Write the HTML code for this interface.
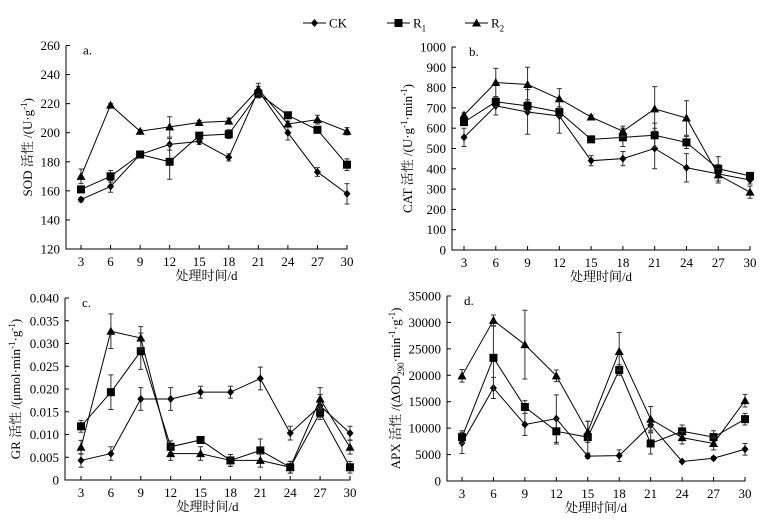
<!DOCTYPE html>
<html><head><meta charset="utf-8"><style>
body{margin:0;background:#fff}
svg text{font-family:"Liberation Serif","Noto Serif CJK SC","Noto Sans CJK SC",serif;fill:#000}
</style></head><body>
<svg id="c" width="768" height="520" viewBox="0 0 768 520" xmlns="http://www.w3.org/2000/svg"></svg>
<script>
const days=[3,6,9,12,15,18,21,24,27,30];
const sodCK=[154,163,185,192,194,183,229,200,173,158];
const sodR1=[161,170,185,180,198,199,227,212,202,178];
const sodR2=[170,219,201,204,207,208,230,206,209,201];
const sodErrCK=[1.5,4,1,4,2,2.5,3,5,3,7];
const sodErrR1=[2,4,1,12,2,3,3,2,1.5,4];
const sodErrR2=[5,1,1,7,1.5,2,4,2,3,2.5];
const catCK=[555,710,680,660,440,450,500,405,375,345];
const catR1=[630,730,710,680,545,555,565,530,400,365];
const catR2=[665,825,815,745,655,585,695,650,370,285];
const catErrCK=[45,45,110,85,25,35,100,70,45,20];
const catErrR1=[15,25,30,25,10,45,60,30,60,10];
const catErrR2=[10,70,85,50,10,25,110,85,30,30];
const grCK=[0.0043,0.0058,0.0178,0.0178,0.0193,0.0193,0.0223,0.0103,0.0163,0.0103];
const grR1=[0.0118,0.0193,0.0283,0.0073,0.0088,0.0043,0.0065,0.0028,0.0148,0.0028];
const grR2=[0.0072,0.0327,0.0312,0.0058,0.0058,0.0043,0.0043,0.0028,0.0178,0.0072];
const grErrCK=[0.0015,0.0015,0.0025,0.0025,0.0013,0.0013,0.0025,0.0015,0.0025,0.0015];
const grErrR1=[0.0013,0.0038,0.004,0.0013,0.0005,0.0013,0.0025,0.0013,0.0015,0.0013];
const grErrR2=[0.0015,0.0038,0.0025,0.0015,0.0015,0.0013,0.0015,0.0013,0.0025,0.0015];
const apxCK=[7200,17600,10700,11800,4700,4800,10600,3700,4300,6000];
const apxR1=[8300,23300,14000,9400,8300,21000,7100,9400,8300,11700];
const apxR2=[19900,30400,25800,19900,9300,24500,11700,8200,7100,15200];
const apxErrCK=[2000,2000,2100,4500,400,1100,1000,200,300,1100];
const apxErrR1=[1200,6000,1200,2400,3000,1000,2000,1200,1200,1100];
const apxErrR2=[1200,1000,6500,1100,2000,3600,2400,1200,1200,1200];
const sodTicks=[120,140,160,180,200,220,240,260];
const catTicks=[0,100,200,300,400,500,600,700,800,900,1000];
const grTicks=[0,0.005,0.010,0.015,0.020,0.025,0.030,0.035,0.040];
const grLabels=["0","0.005","0.010","0.015","0.020","0.025","0.030","0.035","0.040"];
const apxTicks=[0,5000,10000,15000,20000,25000,30000,35000];

const NS="http://www.w3.org/2000/svg";
const svg=document.getElementById('c');
function mk(tag,attrs,parent,txt){const e=document.createElementNS(NS,tag);for(const k in attrs)e.setAttribute(k,attrs[k]);if(txt!==undefined)e.textContent=txt;(parent||svg).appendChild(e);return e;}
function marker(g,type,x,y){
  let m;
  if(type==='d')m=mk('polygon',{points:`${x},${y-4} ${x+3.5},${y} ${x},${y+4} ${x-3.5},${y}`,fill:'#000'},g);
  else if(type==='s')m=mk('rect',{x:x-4,y:y-4,width:8,height:8,fill:'#000'},g);
  else m=mk('polygon',{points:`${x},${y-4.5} ${x+4.5},${y+3.5} ${x-4.5},${y+3.5}`,fill:'#000'},g);
  return m;
}
function panel(p){
  const g=mk('g',{});
  
  
  const ys=v=>p.y0-(p.y0-p.y1)*(v-p.ymin)/(p.ymax-p.ymin);
  const xs=d=>p.xa+(p.xb-p.xa)*(d-3)/27;
  const ax=mk('path',{d:`M${p.ax},${p.y1} V${p.y0} H${xs(30)+0.5}`,stroke:'#000','stroke-width':1,fill:'none'},g);
  
  
  p.ticks.forEach((t,i)=>{
    const y=ys(t);
    mk('line',{x1:p.ax,x2:p.ax+4,y1:y,y2:y,stroke:'#000'},g);
    const tl=mk('text',{x:p.ax-6,y:y+4.5,'text-anchor':'end','font-size':13},g,p.labels?p.labels[i]:String(t));
    
    
  });
  days.forEach(d=>{
    const x=xs(d);
    mk('line',{x1:x,x2:x,y1:p.y0,y2:p.y0-4,stroke:'#000'},g);
    const tl=mk('text',{x:x,y:p.y0+17,'text-anchor':'middle','font-size':13},g,String(d));
    
    
  });
  const pl=mk('text',{x:p.ax+17,y:p.y1+9,'font-size':13},g,p.letter);
  
  
  const xt=mk('text',{x:(p.ax+xs(30))/2,y:p.y0+31,'text-anchor':'middle','font-size':13},g,'处理时间/d');
  
  
  const yt=mk('text',{transform:`translate(${p.tx},${(p.y0+p.y1)/2}) rotate(-90)`,'text-anchor':'middle','font-size':13},g);
  yt.innerHTML=p.title;
  
  
  p.series.forEach(s=>{
    const sg=mk('g',{},g);
    
    
    s.err.forEach((e,i)=>{
      const x=xs(days[i]),a=ys(s.vals[i]+e),b=ys(s.vals[i]-e);
      mk('path',{d:`M${x},${a}V${b}M${x-2.5},${a}H${x+2.5}M${x-2.5},${b}H${x+2.5}`,stroke:'#333','stroke-width':1,fill:'none'},sg);
    });
    const ln=mk('polyline',{points:s.vals.map((v,i)=>xs(days[i])+','+ys(v)).join(' '),fill:'none',stroke:'#000','stroke-width':1},sg);
    
    
    s.vals.forEach((v,i)=>{
      const m=marker(sg,s.m,xs(days[i]),ys(v));
      
      
    });
  });
}
panel({name:'sod-panel',letter:'a.',ax:66,xa:81,xb:347,y0:249,y1:45.5,ymin:120,ymax:260,ticks:sodTicks,tx:32,
  title:'SOD 活性 /(U·g<tspan dy="-5" font-size="9">-1</tspan><tspan dy="5">)</tspan>',
  series:[{key:'ck',m:'d',vals:sodCK,err:sodErrCK},{key:'r1',m:'s',vals:sodR1,err:sodErrR1},{key:'r2',m:'t',vals:sodR2,err:sodErrR2}]});
panel({name:'cat-panel',letter:'b.',ax:452,xa:464,xb:750,y0:250,y1:47,ymin:0,ymax:1000,ticks:catTicks,tx:412,
  title:'CAT 活性 /(U·g<tspan dy="-5" font-size="9">-1</tspan><tspan dy="5">·min</tspan><tspan dy="-5" font-size="9">-1</tspan><tspan dy="5">)</tspan>',
  series:[{key:'ck',m:'d',vals:catCK,err:catErrCK},{key:'r1',m:'s',vals:catR1,err:catErrR1},{key:'r2',m:'t',vals:catR2,err:catErrR2}]});
panel({name:'gr-panel',letter:'c.',ax:65,xa:81,xb:350,y0:480,y1:298,ymin:0,ymax:0.04,ticks:grTicks,labels:grLabels,tx:20,
  title:'GR 活性 /(μmol·min<tspan dy="-5" font-size="9">-1</tspan><tspan dy="5">·g</tspan><tspan dy="-5" font-size="9">-1</tspan><tspan dy="5">)</tspan>',
  series:[{key:'ck',m:'d',vals:grCK,err:grErrCK},{key:'r1',m:'s',vals:grR1,err:grErrR1},{key:'r2',m:'t',vals:grR2,err:grErrR2}]});
panel({name:'apx-panel',letter:'d.',ax:447,xa:462,xb:745,y0:481,y1:296,ymin:0,ymax:35000,ticks:apxTicks,tx:400,
  title:'APX 活性 /(ΔOD<tspan dy="4" font-size="9">290</tspan><tspan dy="-4">·min</tspan><tspan dy="-5" font-size="9">-1</tspan><tspan dy="5">·g</tspan><tspan dy="-5" font-size="9">-1</tspan><tspan dy="5">)</tspan>',
  series:[{key:'ck',m:'d',vals:apxCK,err:apxErrCK},{key:'r1',m:'s',vals:apxR1,err:apxErrR1},{key:'r2',m:'t',vals:apxR2,err:apxErrR2}]});
// legend
const lg=mk('g',{});


[[303,'d','CK',''],[387,'s','R','1'],[465,'t','R','2']].forEach(([x,m,t,sub])=>{
  const e=mk('g',{},lg);
  
  
  mk('line',{x1:x,x2:x+23,y1:23,y2:23,stroke:'#000'},e);
  marker(e,m,x+11.5,23);
  const tx=mk('text',{x:x+26,y:27.5,'font-size':13},e,t);
  if(sub){const s=mk('tspan',{dy:4,'font-size':9},tx,sub);}
});
</script>
</body></html>
